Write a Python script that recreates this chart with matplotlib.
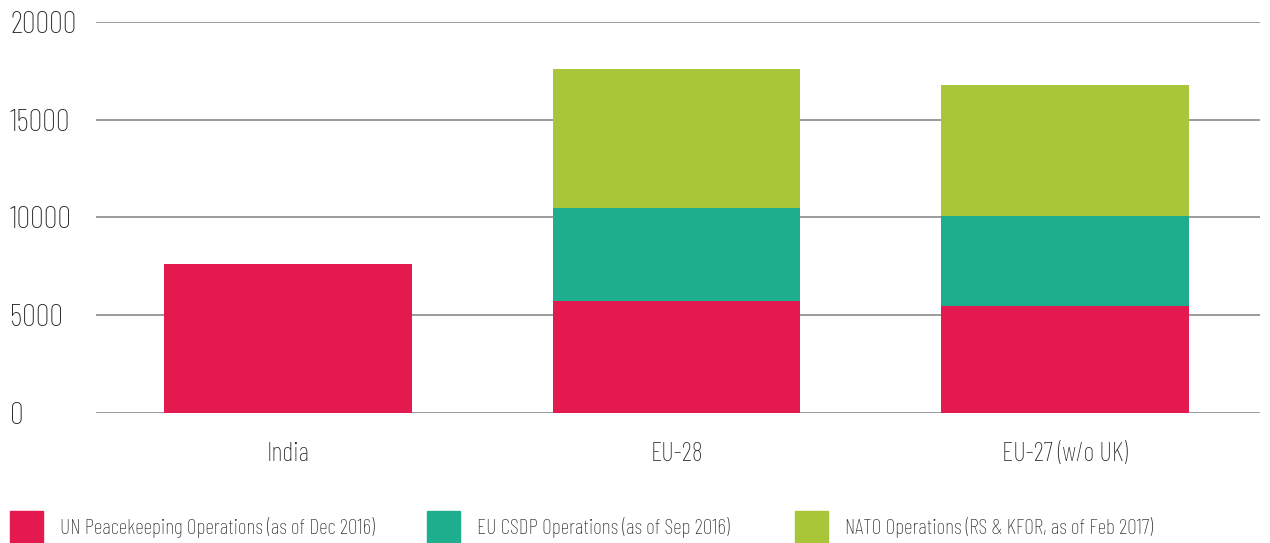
import matplotlib.pyplot as plt
from matplotlib.patches import Rectangle

plt.rcParams['font.family'] = ['Barlow Condensed', 'Fira Sans Extra Condensed', 'DejaVu Sans']
plt.rcParams['font.weight'] = 'light'

categories = ['India', 'EU-28', 'EU-27 (w/o UK)']
series_labels = ['UN Peacekeeping Operations (as of Dec 2016)',
                 'EU CSDP Operations (as of Sep 2016)',
                 'NATO Operations (RS & KFOR, as of Feb 2017)']
un_values = [7620, 5720, 5480]
csdp_values = [0, 4770, 4600]
nato_values = [0, 7120, 6710]
yticks = [0, 5000, 10000, 15000, 20000]

colors = ['#E31950', '#1EAE8E', '#A9C538']
text_color = '#222222'

fig = plt.figure(figsize=(12.7, 5.43), dpi=100)
ax = fig.add_axes([96 / 1270, 1 - 412.7 / 543, (1260 - 96) / 1270, 390.4 / 543])

x = list(range(len(categories)))
bottom = [0] * len(categories)
for vals, col in zip([un_values, csdp_values, nato_values], colors):
    ax.bar(x, vals, width=0.638, bottom=bottom, color=col, zorder=3)
    bottom = [b + v for b, v in zip(bottom, vals)]

ax.set_xlim(-0.494, 2.502)
ax.set_ylim(0, 20000)
ax.set_yticks(yticks)
ax.set_yticklabels([str(t) for t in yticks])
ax.yaxis.grid(True, color='#808080', linewidth=1.1, zorder=1)
ax.set_axisbelow(True)
for s in ax.spines.values():
    s.set_visible(False)
ax.tick_params(axis='y', length=0, labelsize=22.5, colors=text_color, pad=0)
for lbl in ax.get_yticklabels():
    lbl.set_horizontalalignment('left')
    lbl.set_x(-86 / 1164)
ax.set_xticks(x)
ax.set_xticklabels(categories)
ax.tick_params(axis='x', length=0, labelsize=19, colors=text_color, pad=21)

# legend along the bottom edge
leg_x = [10, 427, 795]
for lx, lab, col in zip(leg_x, series_labels, colors):
    fig.patches.append(Rectangle((lx / 1270, 0), 33 / 1270, 32 / 543,
                                 transform=fig.transFigure, color=col))
    fig.text((lx + 50) / 1270, 15 / 543, lab, fontsize=15.5, color=text_color,
             va='center', ha='left')

fig.savefig('out.png', dpi=100)
